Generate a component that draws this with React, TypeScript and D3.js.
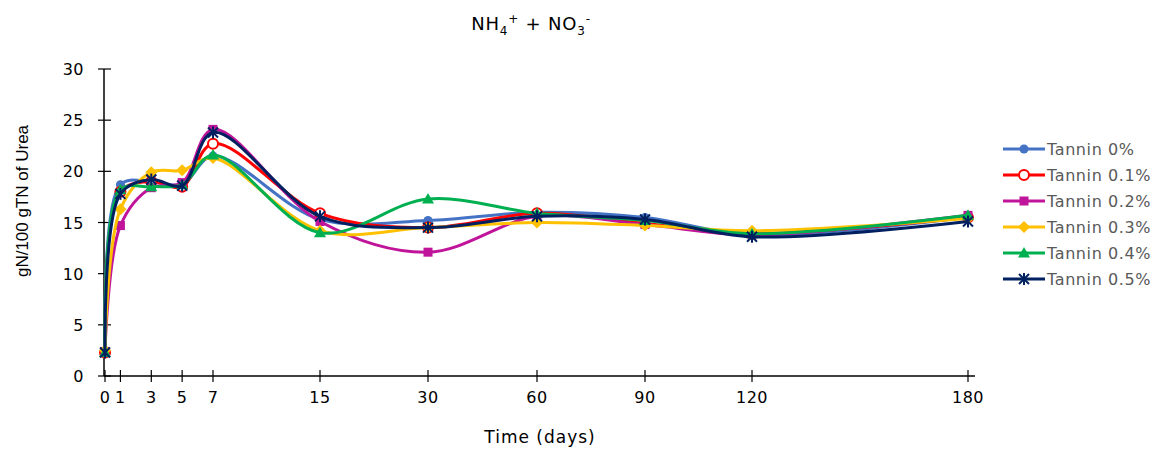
import React from "react";
import * as d3 from "d3";

const days = [0, 1, 3, 5, 7, 15, 30, 60, 90, 120, 180];
const yTicks = [0, 5, 10, 15, 20, 25, 30];
const seriesNames = ["Tannin 0%", "Tannin 0.1%", "Tannin 0.2%", "Tannin 0.3%", "Tannin 0.4%", "Tannin 0.5%"];
const seriesColors = ["#4472C4", "#FF0000", "#C0149A", "#FFC000", "#00B050", "#002060"];
const seriesMarkers = ["circle", "openCircle", "square", "diamond", "triangle", "star"];
const tannin0 = [2.3, 18.7, 19.0, 18.7, 21.5, 15.3, 15.2, 16.0, 15.5, 13.8, 15.5];
const tannin01 = [2.3, 18.0, 19.0, 18.5, 22.7, 15.9, 14.5, 15.9, 14.9, 13.9, 15.5];
const tannin02 = [2.4, 14.7, 18.4, 18.9, 24.1, 15.1, 12.1, 15.6, 14.8, 13.8, 15.7];
const tannin03 = [2.5, 16.3, 19.9, 20.1, 21.3, 14.2, 14.5, 15.0, 14.7, 14.2, 15.4];
const tannin04 = [2.3, 18.2, 18.5, 18.7, 21.6, 14.0, 17.3, 15.9, 15.2, 13.9, 15.7];
const tannin05 = [2.3, 17.8, 19.2, 18.6, 23.8, 15.6, 14.5, 15.6, 15.3, 13.6, 15.1];
const seriesValues = [tannin0, tannin01, tannin02, tannin03, tannin04, tannin05];

const FONT = "'DejaVu Sans', sans-serif";

function Marker({ type, x, y, color }: { type: string; x: number; y: number; color: string }) {
  switch (type) {
    case "circle":
      return <circle cx={x} cy={y} r={4.5} fill={color} />;
    case "openCircle":
      return <circle cx={x} cy={y} r={5} fill="#fff" stroke={color} strokeWidth={2} />;
    case "square":
      return <rect x={x - 4.5} y={y - 4.5} width={9} height={9} fill={color} />;
    case "diamond":
      return <path d={`M${x},${y - 6}L${x + 6},${y}L${x},${y + 6}L${x - 6},${y}Z`} fill={color} />;
    case "triangle":
      return <path d={`M${x},${y - 6}L${x + 6},${y + 4.5}L${x - 6},${y + 4.5}Z`} fill={color} />;
    case "star":
      return (
        <g stroke={color} strokeWidth={2}>
          <line x1={x - 5} y1={y - 5} x2={x + 5} y2={y + 5} />
          <line x1={x - 5} y1={y + 5} x2={x + 5} y2={y - 5} />
          <line x1={x} y1={y - 6} x2={x} y2={y + 6} />
        </g>
      );
  }
  return null;
}

export default function App() {
  const x = d3
    .scaleLinear()
    .domain([0, 7, 15, 30, 60, 90, 120, 180])
    .range([105, 213, 320, 428, 537, 645, 752, 968]);
  const y = d3.scaleLinear().domain([0, 30]).range([376, 69]);
  const line = d3
    .line<number>()
    .x((_, i) => x(days[i]))
    .y((d) => y(d))
    .curve(d3.curveCatmullRom.alpha(0.5));

  return (
    <svg
      width={1164}
      height={450}
      style={{ position: "absolute", left: 0, top: 0, background: "#fff" }}
      fontFamily={FONT}
    >
      <text x={531} y={30} textAnchor="middle" fontSize={18} fill="#000" letterSpacing={0.8}>
        NH
        <tspan fontSize={12} dy={5}>4</tspan>
        <tspan fontSize={12} dy={-12}>+</tspan>
        <tspan fontSize={18} dy={7}> + NO</tspan>
        <tspan fontSize={12} dy={5}>3</tspan>
        <tspan fontSize={12} dy={-12}>-</tspan>
      </text>

      {/* y axis */}
      <line x1={104} x2={104} y1={y(30)} y2={y(0)} stroke="#000" strokeWidth={1.5} />
      {yTicks.map((t) => (
        <g key={t}>
          <line x1={98} x2={111} y1={y(t)} y2={y(t)} stroke="#000" strokeWidth={1.2} />
          <text x={84} y={y(t) + 6} textAnchor="end" fontSize={16} fill="#000" letterSpacing={0.5}>
            {t}
          </text>
        </g>
      ))}
      <text
        transform={`translate(28,201) rotate(-90)`}
        textAnchor="middle"
        fontSize={17}
        fontFamily="'Liberation Sans', Arial, sans-serif"
        fill="#000"
      >
        gN/100 gTN of Urea
      </text>

      {/* x axis */}
      <line x1={104} x2={975} y1={y(0)} y2={y(0)} stroke="#000" strokeWidth={1.5} />
      {days.map((d) => (
        <g key={d}>
          <line x1={x(d)} x2={x(d)} y1={y(0) - 6} y2={y(0) + 6} stroke="#000" strokeWidth={1.2} />
          <text x={x(d)} y={y(0) + 27} textAnchor="middle" fontSize={16} fill="#000" letterSpacing={0.5}>
            {d}
          </text>
        </g>
      ))}
      <text x={540} y={443} textAnchor="middle" fontSize={17} fill="#000" letterSpacing={1}>
        Time (days)
      </text>

      {/* series */}
      {seriesValues.map((vals, si) => (
        <g key={si}>
          <path d={line(vals) ?? ""} fill="none" stroke={seriesColors[si]} strokeWidth={3} />
          {vals.map((v, i) => (
            <Marker key={i} type={seriesMarkers[si]} x={x(days[i])} y={y(v)} color={seriesColors[si]} />
          ))}
        </g>
      ))}

      {/* legend */}
      {seriesNames.map((name, si) => {
        const ly = 149 + si * 26;
        return (
          <g key={name}>
            <line x1={1003} x2={1045} y1={ly} y2={ly} stroke={seriesColors[si]} strokeWidth={3} />
            <Marker type={seriesMarkers[si]} x={1024} y={ly} color={seriesColors[si]} />
            <text x={1047} y={ly + 6} fontSize={16} fill="#595959" letterSpacing={0.6}>
              {name}
            </text>
          </g>
        );
      })}
    </svg>
  );
}
